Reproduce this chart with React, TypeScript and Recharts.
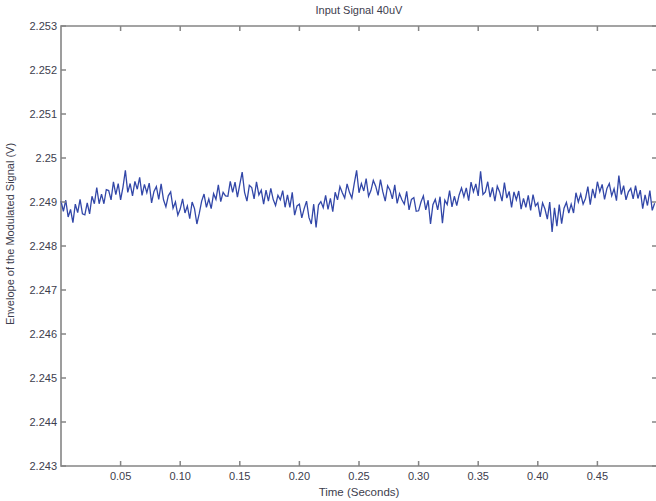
import { LineChart, Line, XAxis, YAxis, ReferenceArea } from 'recharts';

// Envelope samples, one every 2 ms from t = 0
const SAMPLE_STEP = 0.002;
const ENVELOPE_V = [
  2.24902, 2.24879, 2.24904, 2.24866, 2.24883, 2.24853, 2.24895, 2.24876, 2.24906, 2.24873,
  2.24871, 2.24898, 2.24873, 2.24913, 2.24896, 2.24933, 2.24896, 2.24918, 2.24896, 2.24928,
  2.24926, 2.24905, 2.24946, 2.24917, 2.24942, 2.24905, 2.24934, 2.24972, 2.24922, 2.24942,
  2.24914, 2.24947, 2.24929, 2.24956, 2.24915, 2.24940, 2.24921, 2.24943, 2.24898, 2.24924,
  2.24935, 2.24906, 2.24941, 2.24905, 2.24889, 2.24914, 2.24923, 2.24886, 2.24900, 2.24870,
  2.24884, 2.24907, 2.24875, 2.24891, 2.24862, 2.24900, 2.24885, 2.24850, 2.24874, 2.24902,
  2.24918, 2.24888, 2.24907, 2.24885, 2.24919, 2.24906, 2.24939, 2.24901, 2.24922, 2.24914,
  2.24913, 2.24947, 2.24922, 2.24945, 2.24911, 2.24940, 2.24968, 2.24922, 2.24902, 2.24938,
  2.24933, 2.24907, 2.24946, 2.24916, 2.24927, 2.24895, 2.24927, 2.24902, 2.24931, 2.24906,
  2.24892, 2.24915, 2.24905, 2.24926, 2.24888, 2.24916, 2.24888, 2.24922, 2.24870, 2.24891,
  2.24895, 2.24864, 2.24885, 2.24902, 2.24865, 2.24850, 2.24895, 2.24842, 2.24893, 2.24901,
  2.24887, 2.24915, 2.24883, 2.24908, 2.24878, 2.24922, 2.24905, 2.24935, 2.24921, 2.24909,
  2.24941, 2.24922, 2.24909, 2.24942, 2.24972, 2.24921, 2.24942, 2.24925, 2.24953, 2.24913,
  2.24926, 2.24949, 2.24936, 2.24915, 2.24951, 2.24923, 2.24902, 2.24937, 2.24927, 2.24907,
  2.24939, 2.24897, 2.24919, 2.24905, 2.24895, 2.24924, 2.24882, 2.24906, 2.24910, 2.24879,
  2.24880, 2.24900, 2.24914, 2.24882, 2.24904, 2.24850, 2.24894, 2.24906, 2.24882, 2.24912,
  2.24852, 2.24904, 2.24894, 2.24926, 2.24889, 2.24913, 2.24892, 2.24916, 2.24932, 2.24912,
  2.24932, 2.24903, 2.24945, 2.24923, 2.24941, 2.24914, 2.24970, 2.24917, 2.24923, 2.24946,
  2.24911, 2.24933, 2.24902, 2.24936, 2.24923, 2.24902, 2.24944, 2.24909, 2.24924, 2.24888,
  2.24923, 2.24905, 2.24925, 2.24884, 2.24908, 2.24888, 2.24915, 2.24881, 2.24917, 2.24891,
  2.24898, 2.24866, 2.24898, 2.24884, 2.24861, 2.24900, 2.24832, 2.24887, 2.24845, 2.24894,
  2.24851, 2.24886, 2.24899, 2.24875, 2.24895, 2.24875, 2.24921, 2.24900, 2.24918, 2.24895,
  2.24908, 2.24935, 2.24894, 2.24930, 2.24909, 2.24946, 2.24923, 2.24940, 2.24906, 2.24931,
  2.24942, 2.24914, 2.24930, 2.24903, 2.24960, 2.24917, 2.24937, 2.24905, 2.24923, 2.24931,
  2.24907, 2.24937, 2.24908, 2.24927, 2.24885, 2.24916, 2.24892, 2.24926, 2.24881, 2.24897,
];

const TIME_TICKS = [0.05, 0.1, 0.15, 0.2, 0.25, 0.3, 0.35, 0.4, 0.45];
const VOLT_TICKS = [2.243, 2.244, 2.245, 2.246, 2.247, 2.248, 2.249, 2.25, 2.251, 2.252, 2.253];

const data = ENVELOPE_V.map((v, i) => ({ t: +(i * SAMPLE_STEP).toFixed(3), v }));

const FONT = '"Liberation Sans", Arial, sans-serif';
const AXIS = '#858585';
const TEXT = '#3d3d4d';
const PLOT_TOP = 26;
const PLOT_RIGHT = 657;

function XTick({ x, y, payload }: any) {
  return (
    <g>
      <line x1={x} x2={x} y1={y} y2={y - 5} stroke={AXIS} strokeWidth={1.5} />
      <line x1={x} x2={x} y1={PLOT_TOP} y2={PLOT_TOP + 5} stroke={AXIS} strokeWidth={1.5} />
      <text x={x} y={y + 14} textAnchor="middle" fontSize={11} fontFamily={FONT} fill={TEXT}>
        {Number(payload.value).toFixed(2)}
      </text>
    </g>
  );
}

function YTick({ x, y, payload }: any) {
  return (
    <g>
      <line x1={x} x2={x + 5} y1={y} y2={y} stroke={AXIS} strokeWidth={1.5} />
      <line x1={PLOT_RIGHT - 5} x2={PLOT_RIGHT} y1={y} y2={y} stroke={AXIS} strokeWidth={1.5} />
      <text x={x - 4} y={y + 4} textAnchor="end" fontSize={11} fontFamily={FONT} fill={TEXT}>
        {String(Number(Number(payload.value).toFixed(3)))}
      </text>
    </g>
  );
}

export default function App() {
  return (
    <div style={{ position: 'absolute', left: 0, top: 0, width: 656, height: 501, overflow: 'hidden', background: '#fff' }}>
      <LineChart width={658} height={501} data={data} margin={{ top: 0, right: 1, bottom: 0, left: 0 }}>
        <XAxis
          xAxisId="title"
          orientation="top"
          dataKey="t"
          type="number"
          domain={[0, 0.5]}
          height={26}
          tick={false}
          tickLine={false}
          axisLine={false}
          label={{
            content: ({ viewBox }: any) => (
              <text x={viewBox.x + viewBox.width / 2} y={14} textAnchor="middle" fontSize={11} fontFamily={FONT} fill={TEXT}>
                Input Signal 40uV
              </text>
            ),
          }}
        />
        <XAxis
          dataKey="t"
          type="number"
          domain={[0, 0.5]}
          ticks={TIME_TICKS}
          height={35}
          tickSize={0}
          tickMargin={0}
          tickLine={false}
          axisLine={false}
          tick={<XTick />}
          interval={0}
          label={{
            content: ({ viewBox }: any) => (
              <text x={viewBox.x + viewBox.width / 2} y={496} textAnchor="middle" fontSize={11.5} fontFamily={FONT} fill={TEXT}>
                Time (Seconds)
              </text>
            ),
          }}
        />
        <YAxis
          type="number"
          domain={[2.243, 2.253]}
          ticks={VOLT_TICKS}
          width={61}
          tickSize={0}
          tickMargin={0}
          tickLine={false}
          axisLine={false}
          tick={<YTick />}
          interval={0}
          allowDataOverflow
          label={{
            content: () => (
              <text
                x={14}
                y={234}
                transform="rotate(-90 14 234)"
                textAnchor="middle"
                fontSize={11}
                fontFamily={FONT}
                fill={TEXT}
              >
                Envelope of the Modulated Signal (V)
              </text>
            ),
          }}
        />
        <ReferenceArea x1={0} x2={0.5} y1={2.243} y2={2.253} fill="none" stroke={AXIS} strokeWidth={1.6} />
        <Line
          type="linear"
          dataKey="v"
          stroke="#3247a8"
          strokeWidth={1.3}
          dot={false}
          isAnimationActive={false}
        />
      </LineChart>
    </div>
  );
}
